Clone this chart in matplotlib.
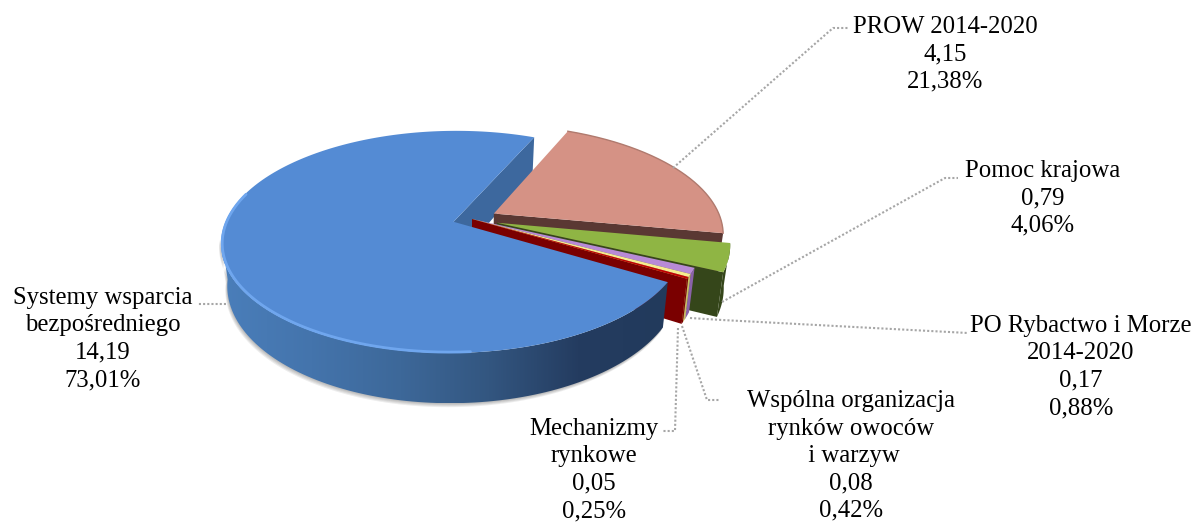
import numpy as np
import matplotlib
matplotlib.use("Agg")
import matplotlib.pyplot as plt
from matplotlib.patches import Polygon
from matplotlib.colors import LinearSegmentedColormap

# clockwise from the PROW slice, Systemy last
names = ["PROW 2014-2020", "Pomoc krajowa", "PO Rybactwo i Morze\n2014-2020",
         "Wspólna organizacja\nrynków owoców\n i warzyw", "Mechanizmy\nrynkowe",
         "Systemy wsparcia\nbezpośredniego"]
values = ["4,15", "0,79", "0,17", "0,08", "0,05", "14,19"]
percents = [21.38, 4.06, 0.88, 0.42, 0.25, 73.01]

explode = [0.11, 0.115, 0.0, 0.0, 0.0, 0.085]
top_colors = ["#D59285", "#8FB544", "#B88AD6", "#F6EC8E", "#C00000", "#548BD4"]
side_colors = ["#5A3833", "#35461A", "#8A62A8", "#C8BE60", "#7A0000", "#2A4468"]

label_pos = [(945, 54), (1043, 198), (1081, 367), (851, 456), (594, 470), (103, 339)]
leaders = [[(673, 168), (833, 28), (848, 28)],
           [(722, 302), (945, 178), (958, 178)],
           [(690, 318), (722, 320), (968, 333)],
           [(682, 326), (707, 400), (720, 400)],
           [(678, 328), (675, 431), (662, 431)],
           [(226, 304), (197, 304)]]

# pie geometry in pixels
cx, cy = 472, 219
fx, fy = 227, 106.4
persp = 0.18
depth = 41
taper = 0.025
start_angle = 23.5


def proj(a, r=1.0, off=(0, 0), z=0.0):
    u = r * np.sin(a) + off[0]
    v = -r * np.cos(a) + off[1]
    s = 1 / (1 - persp * v)
    return cx + fx * u * s * (1 - taper * z), cy + fy * v * s + depth * z * s


def slice_geom(a0, a1, e):
    mid = (a0 + a1) / 2
    off = (e * np.sin(mid), -e * np.cos(mid))
    arc = np.linspace(a0, a1, 200)
    return off, arc


def top_poly(a0, a1, e):
    off, arc = slice_geom(a0, a1, e)
    ax_, ay_ = proj(arc, off=off)
    x0, y0 = proj(0, r=0, off=off)
    return np.vstack([[x0, y0], np.column_stack([ax_, ay_])])


def face_poly(a, off):
    x0, y0 = proj(0, r=0, off=off)
    x1, y1 = proj(a, off=off)
    x2, y2 = proj(a, off=off, z=1)
    x3, y3 = proj(0, r=0, off=off, z=1)
    return [(x0, y0), (x1, y1), (x2, y2), (x3, y3)]


def rim_poly(a0, a1, e):
    off, arc = slice_geom(a0, a1, e)
    v = -np.cos(arc) + off[1]
    arc = arc[v > persp - 0.02]
    x1, y1 = proj(arc, off=off)
    x2, y2 = proj(arc, off=off, z=1)
    return np.vstack([np.column_stack([x1, y1]), np.column_stack([x2, y2])[::-1]])


fig = plt.figure(figsize=(11.92, 5.22), dpi=100)
ax = fig.add_axes([0, 0, 1, 1])
ax.axis("off")

edges = np.radians(start_angle + np.cumsum([0] + percents) * 3.6)

# blue slice wraps round, its start edge is at start_angle + 360
blue_a0 = edges[5]
blue_a1 = edges[6]
blue_off, _ = slice_geom(blue_a0, blue_a1, explode[5])

# back cut face of the big slice
ax.add_patch(Polygon(face_poly(blue_a1, blue_off), color="#3D689E", lw=0, zorder=1))

z = 2
for i in range(5):
    a0, a1 = edges[i], edges[i + 1]
    off, arc = slice_geom(a0, a1, explode[i])
    rim = rim_poly(a0, a1, explode[i])
    if len(rim):
        ax.add_patch(Polygon(rim, color=side_colors[i], lw=0, zorder=z))
    ax.add_patch(Polygon(face_poly(a1, off), color=side_colors[i], lw=0, zorder=z))
    ax.add_patch(Polygon(top_poly(a0, a1, explode[i]), color=top_colors[i], lw=0, zorder=z + 0.5))
    if i == 0:
        # darker outline on the pink slice
        px, py = proj(arc, off=off)
        ax.plot(px, py, color="#B07A6E", lw=1, zorder=z + 0.6)
    z += 1

# soft shadow under the wall, then wall gradient
rim = rim_poly(blue_a0, blue_a1, explode[5])
for k, dz in enumerate([4, 3, 2, 1]):
    ax.add_patch(Polygon(rim + [-dz * 0.5, dz], color="k", alpha=0.07, lw=0, zorder=z))
z += 1
wall_cmap = LinearSegmentedColormap.from_list(
    "wall", ["#4A7EBA", "#4474AC", "#3D6899", "#335680", "#243C60", "#223A5C"])
wall = Polygon(rim, color="none", lw=0, zorder=z)
ax.add_patch(wall)
im = ax.imshow(np.linspace(0, 1, 256).reshape(1, -1), cmap=wall_cmap, aspect="auto",
               extent=(222, 668, 403, 240), zorder=z)
im.set_clip_path(wall)
z += 1

ax.add_patch(Polygon(top_poly(blue_a0, blue_a1, explode[5]), color=top_colors[5], lw=0, zorder=z))
z += 1

# light bevel on the near edge of the top
hl = np.linspace(blue_a0 + np.radians(55), blue_a0 + np.radians(165), 200)
hx, hy = proj(hl, r=0.995, off=blue_off)
ax.plot(hx, hy, color="#6FA6EE", lw=2, zorder=z, solid_capstyle="round")
z += 1

for pts in leaders:
    xs, ys = zip(*pts)
    ax.plot(xs, ys, color="#A6A6A6", lw=1.5, ls=(0, (1, 1)), zorder=z)

for name, val, pct, (lx, ly) in zip(names, values, percents, label_pos):
    txt = name + "\n" + val + "\n" + f"{pct:.2f}".replace(".", ",") + "%"
    ax.text(lx, ly, txt, ha="center", va="center", ma="center",
            family="Liberation Serif", fontsize=17.8, linespacing=1.32, color="black", zorder=z + 1)

ax.set_xlim(0, 1192)
ax.set_ylim(522, 0)
fig.savefig("out.png", dpi=100)
